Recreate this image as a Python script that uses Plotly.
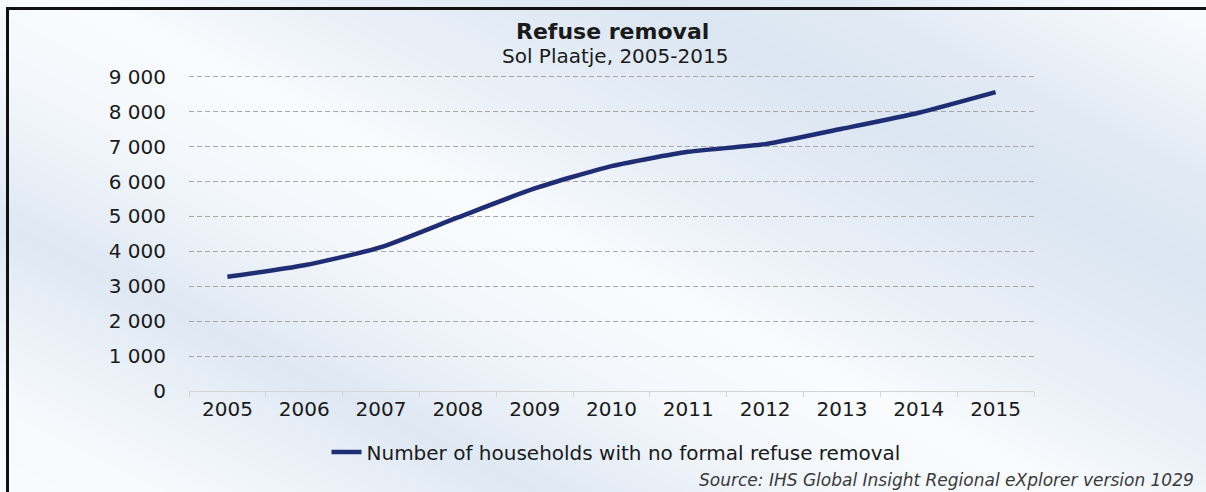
import base64
import struct
import zlib

import numpy as np
import plotly.graph_objects as go

# Households with no formal refuse removal, Sol Plaatje
years = ["2005", "2006", "2007", "2008", "2009", "2010",
         "2011", "2012", "2013", "2014", "2015"]
households = [3270, 3600, 4120, 4970, 5800, 6440,
              6850, 7070, 7510, 7970, 8560]
y_ticks = [0, 1000, 2000, 3000, 4000, 5000, 6000, 7000, 8000, 9000]

W, H = 1206, 492
L, R, T, B = 189, 172, 75, 101
PW, PH = W - L - R, H - T - B


def px_x(px):
    return (px - L) / PW


def px_y(py):
    return (H - B - py) / PH


def backdrop_png(w, h):
    """Diagonal light-blue / white streaked backdrop with the chart frame's
    top and left edges, returned as a PNG data URI."""
    X, Y = np.meshgrid(np.arange(w), np.arange(h))
    u = X - 2.0 * Y
    stops_u = np.array([-1100, -800, -450, -150, 80, 300, 650, 850, 1150, 1400])
    stops_t = np.array([0.0, 0.1, 0.85, 0.2, 0.0, 0.5, 0.95, 0.75, 0.05, 0.0])
    t = np.interp(u, stops_u, stops_t)
    white = np.array([250, 252, 254], dtype=float)
    blue = np.array([218, 229, 242], dtype=float)
    img = white[None, None, :] * (1 - t[..., None]) + blue[None, None, :] * t[..., None]
    img = np.clip(img, 0, 255).astype(np.uint8)
    # frame edges
    img[7:10, 6:, :] = 17
    img[7:, 6:9, :] = 17
    raw = b"".join(b"\x00" + img[r].tobytes() for r in range(h))

    def chunk(tag, data):
        c = struct.pack(">I", len(data)) + tag + data
        return c + struct.pack(">I", zlib.crc32(tag + data) & 0xFFFFFFFF)

    png = b"\x89PNG\r\n\x1a\n"
    png += chunk(b"IHDR", struct.pack(">IIBBBBB", w, h, 8, 2, 0, 0, 0))
    png += chunk(b"IDAT", zlib.compress(raw, 9))
    png += chunk(b"IEND", b"")
    return "data:image/png;base64," + base64.b64encode(png).decode()


FONT = "DejaVu Sans"
TEXT = "#1a1a1a"
LINE = "#1f2d74"

fig = go.Figure()
fig.add_trace(go.Scatter(
    x=years,
    y=households,
    mode="lines",
    line=dict(color=LINE, width=4.5, shape="spline", smoothing=0.6),
    name="Number of households with no formal refuse removal",
))

fig.update_layout(
    width=W,
    height=H,
    margin=dict(l=L, r=R, t=T, b=B, pad=0),
    paper_bgcolor="#f4f8fc",
    plot_bgcolor="rgba(0,0,0,0)",
    separators=". ",
    font=dict(family=FONT, size=20, color=TEXT),
    showlegend=True,
    legend=dict(
        orientation="h",
        x=px_x(616), xanchor="center",
        y=px_y(452), yanchor="middle",
        bgcolor="rgba(0,0,0,0)",
        font=dict(family=FONT, size=20, color=TEXT),
    ),
    xaxis=dict(
        type="category",
        categoryorder="array",
        categoryarray=years,
        range=[-0.5, len(years) - 0.5],
        tickson="boundaries",
        ticks="outside",
        ticklen=5,
        tickcolor="#d4d4d4",
        showline=True,
        linecolor="#d4d4d4",
        linewidth=1,
        showgrid=False,
        tickfont=dict(family=FONT, size=20, color=TEXT),
        fixedrange=True,
    ),
    yaxis=dict(
        range=[0, 9050],
        tickvals=y_ticks,
        tickformat=",d",
        ticks="",
        ticklabelstandoff=22,
        showline=False,
        zeroline=False,
        showgrid=True,
        gridcolor="#a6a6a6",
        gridwidth=1,
        griddash="5px,3px",
        tickfont=dict(family=FONT, size=20, color=TEXT),
        fixedrange=True,
    ),
    images=[dict(
        source=backdrop_png(W, H),
        xref="paper", yref="paper",
        x=px_x(0), y=px_y(0),
        sizex=W / PW, sizey=H / PH,
        xanchor="left", yanchor="top",
        sizing="stretch",
        layer="below",
    )],
    annotations=[
        dict(
            text="<b>Refuse removal</b>",
            xref="paper", yref="paper",
            x=px_x(612), y=px_y(32),
            xanchor="center", yanchor="middle",
            showarrow=False,
            font=dict(family=FONT, size=22, color=TEXT),
        ),
        dict(
            text="Sol Plaatje, 2005-2015",
            xref="paper", yref="paper",
            x=px_x(615), y=px_y(56),
            xanchor="center", yanchor="middle",
            showarrow=False,
            font=dict(family=FONT, size=20, color=TEXT),
        ),
        dict(
            text="<i>Source: IHS Global Insight Regional eXplorer version 1029</i>",
            xref="paper", yref="paper",
            x=px_x(1196), y=px_y(480),
            xanchor="right", yanchor="middle",
            showarrow=False,
            font=dict(family=FONT, size=17, color="#3a3a3a"),
        ),
    ],
)

fig.write_html("out.html")
